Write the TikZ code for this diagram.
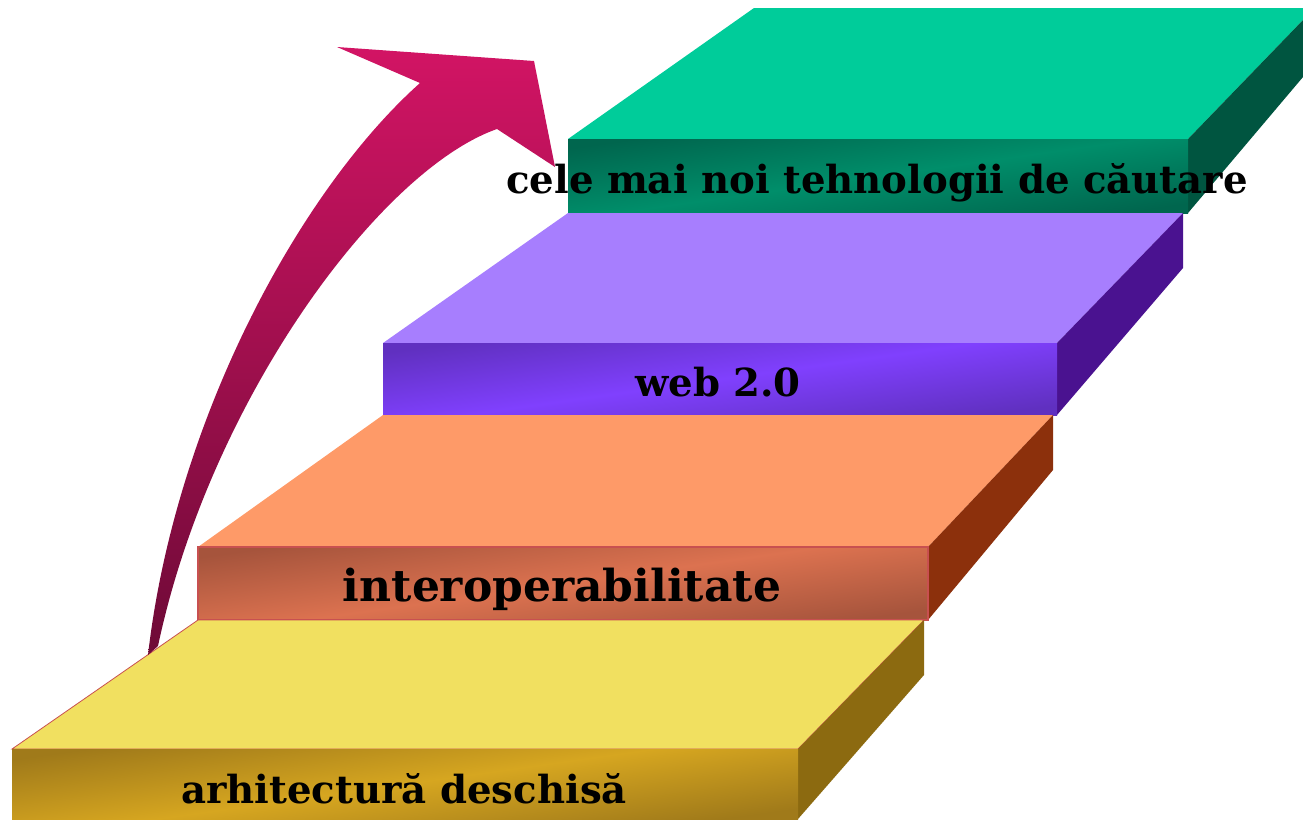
\documentclass[tikz,border=0pt]{standalone}
\usepackage{fontspec}
\setmainfont{DejaVu Serif}
\usepackage{tikz}

\definecolor{yelTop}{RGB}{241,224,96}
\definecolor{yelFront}{RGB}{214,166,32}
\definecolor{yelDark}{RGB}{160,122,26}
\definecolor{yelSide}{RGB}{140,106,16}
\definecolor{oraTop}{RGB}{254,154,104}
\definecolor{oraFront}{RGB}{220,114,80}
\definecolor{oraDark}{RGB}{166,84,60}
\definecolor{oraSide}{RGB}{140,48,12}
\definecolor{purTop}{RGB}{167,126,254}
\definecolor{purFront}{RGB}{128,64,254}
\definecolor{purDark}{RGB}{96,48,192}
\definecolor{purSide}{RGB}{74,18,144}
\definecolor{grnTop}{RGB}{0,204,154}
\definecolor{grnFront}{RGB}{0,142,106}
\definecolor{grnDark}{RGB}{0,102,78}
\definecolor{grnSide}{RGB}{0,85,64}
\definecolor{arrLight}{RGB}{210,20,100}
\definecolor{arrDark}{RGB}{110,10,55}
\definecolor{edgeRed}{RGB}{200,80,80}

\begin{document}
\begin{tikzpicture}[x=0.75pt,y=0.75pt,yscale=-1,xscale=1,
  frontface/.style 2 args={top color=#2, bottom color=#2, middle color=#1, shading angle=8},
  steplabel/.style={font=\bfseries\fontsize{29}{34}\selectfont, inner sep=0pt, anchor=base}]
\useasboundingbox (0,0) rectangle (1303,819);

%Step 4: top, side, front
\fill [grnTop] (568,139) -- (754,8) -- (1303,8) -- (1303,20) -- (1188,139) -- cycle ;
\fill [grnSide] (1188,139) -- (1303,20) -- (1303,77) -- (1188,213) -- cycle ;
\shade [frontface={grnFront}{grnDark}] (568,139) rectangle (1188,213) ;

%Step 3: top, side, front
\fill [purTop] (383,343) -- (568,213) -- (1183,213) -- (1057,343) -- cycle ;
\fill [purSide] (1057,343) -- (1183,213) -- (1183,268) -- (1057,415) -- cycle ;
\shade [frontface={purFront}{purDark}] (383,343) rectangle (1057,415) ;

%Step 2: top, side, front
\fill [oraTop] (198,547) -- (383,415) -- (1053,415) -- (928,547) -- cycle ;
\fill [oraSide] (928,547) -- (1053,415) -- (1053,470) -- (928,620) -- cycle ;
\shade [frontface={oraFront}{oraDark}, draw=edgeRed, line width=1pt] (198,547) rectangle (928,620) ;

%Step 1: top, side, front
\filldraw [fill=yelTop, draw=edgeRed, line width=0.6pt] (12,749) -- (198,620) -- (924,620) -- (798,749) -- cycle ;
\fill [yelSide] (798,749) -- (924,620) -- (924,675) -- (798,819) -- cycle ;
\shade [frontface={yelFront}{yelDark}] (12,749) rectangle (798,819) ;

%Curved arrow
\shade [top color=arrLight, bottom color=arrDark] (148,655) .. controls (175,420) and (300,190) .. (420,83) -- (337,47) -- (534,61) -- (555,167) -- (497,129) .. controls (380,170) and (210,400) .. (158,646) -- cycle ;

% Text Nodes
\node [steplabel] (arhitectura) at (404,803) {arhitectură deschisă};
\node [steplabel, font=\bfseries\fontsize{33}{38}\selectfont] (interop) at (562,601) {interoperabilitate};
\node [steplabel] (web) at (718,396) {web 2.0};
\node [steplabel] (cautare) at (877,193) {cele mai noi tehnologii de căutare};

\end{tikzpicture}
\end{document}
